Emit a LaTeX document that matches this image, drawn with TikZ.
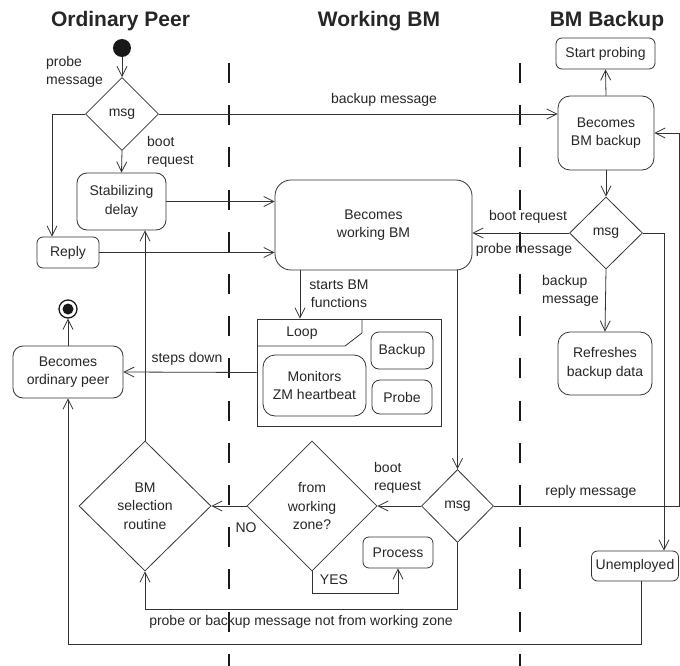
\documentclass[tikz,border=0pt]{standalone}
\usepackage{fontspec}
\setmainfont{Liberation Sans}
\usetikzlibrary{arrows.meta,shapes.geometric}

\begin{document}
\begin{tikzpicture}[x=1pt,y=-1pt,
  every node/.style={font=\fontsize{14}{18.5}\selectfont, text=black!85},
  ln/.style={draw=black!80, line width=0.8pt},
  arr/.style={ln, -{Straight Barb[length=10pt,width=10pt]}},
  act/.style={draw=black!80, line width=0.8pt, rounded corners=#1, align=center, inner sep=0pt},
  act/.default=8pt,
  dec/.style={draw=black!80, line width=0.8pt, shape=diamond, aspect=1, inner sep=0pt, align=center},
  lbl/.style={align=left, anchor=west, inner sep=0pt},
  lane/.style={line width=2pt, draw=black!90, dash pattern=on 20pt off 22.2pt},
  title/.style={font=\fontsize{21}{25}\selectfont\bfseries, text=black!85}
]
\useasboundingbox (0,0) rectangle (680,666);

% swimlane titles and separators
\node[title] at (120.5,21) {Ordinary Peer};
\node[title] at (379,21) {Working BM};
\node[title] at (607,21) {BM Backup};
\draw[lane] (229,63) -- (229,666);
\draw[lane] (520,63) -- (520,666);

% ordinary peer lane
\node[circle, fill=black!90, minimum size=18pt, inner sep=0pt] (init) at (122,48) {};
\node[dec, minimum width=73pt, minimum height=73pt] (m1) at (122,114) {msg};
\node[act=10pt, minimum width=89pt, minimum height=57pt] (stab) at (121.5,201.5) {Stabilizing\\delay};
\node[act=6pt, minimum width=62pt, minimum height=31pt] (reply) at (68,252.5) {Reply};
\node[act=10pt, minimum width=110pt, minimum height=52pt] (ordp) at (68,372) {Becomes\\ordinary peer};
\node[circle, draw=black!90, line width=1.3pt, minimum size=18pt, inner sep=0pt] (fin) at (68,309) {};
\fill[black!90] (fin.center) circle (5.5pt);
\node[dec, minimum width=132pt, minimum height=130pt] (bms) at (145,506) {BM\\selection\\routine};

% working BM lane
\node[act=16pt, minimum width=197pt, minimum height=90pt] (wbm) at (373.5,225) {Becomes\\working BM};
\node[draw=black!80, line width=0.8pt, minimum width=184pt, minimum height=107pt, inner sep=0pt] (loopf) at (349,372.5) {};
\draw[ln] (257,346) -- (345,346) -- (362,333) -- (362,319);
\node at (302,333) {Loop};
\node[act=12pt, minimum width=103pt, minimum height=61pt] (mon) at (314.5,385.5) {Monitors\\ZM heartbeat};
\node[act=8pt, minimum width=62pt, minimum height=37pt] (bkp) at (402,350.5) {Backup};
\node[act=8pt, minimum width=60pt, minimum height=34pt] (prb) at (402,397) {Probe};
\node[dec, minimum width=130pt, minimum height=130pt] (fwz) at (312,506) {from\\working\\zone?};
\node[dec, minimum width=72pt, minimum height=73pt] (m3) at (457.5,506) {msg};
\node[act=6pt, minimum width=70pt, minimum height=31pt] (proc) at (398,552.5) {Process};

% BM backup lane
\node[act=6pt, minimum width=99pt, minimum height=31pt] (startp) at (605.5,53.5) {Start probing};
\node[act=12pt, minimum width=96pt, minimum height=74pt] (bmbk) at (606,133) {Becomes\\BM backup};
\node[dec, minimum width=73pt, minimum height=72pt] (m2) at (606,233) {msg};
\node[act=12pt, minimum width=94pt, minimum height=63pt] (refr) at (605,363.5) {Refreshes\\backup data};
\node[act=6pt, minimum width=87pt, minimum height=30pt] (unemp) at (635,566) {Unemployed};

% helper columns for the routed connectors
\coordinate (cx1) at (52,0);
\coordinate (cx2) at (300,0);
\coordinate (cx3) at (664,0);
\coordinate (cx4) at (679,0);
\coordinate (cx5) at (641,0);

% connectors
\draw[arr] (init) -- (m1.north);
\draw[arr] (m1.west) -| (reply.north -| cx1);
\draw[arr] (m1.south) -- (stab.north);
\draw[arr] (m1.east) -- (m1.east -| bmbk.west);
\draw[arr] (stab.east) -- (stab.east -| wbm.west);
\draw[arr] (reply.east) -- (reply.east -| wbm.west);
\draw[arr] (bmbk.north) -- (startp.south);
\draw[arr] (bmbk.south) -- (m2.north);
\draw[arr] (m2.west) -- (m2.west -| wbm.east);
\draw[arr] (m2.south) -- (refr.north);
\draw[arr] (m2.east) -| (unemp.north -| cx3);
\draw[arr] (wbm.south -| cx2) -- (loopf.north -| cx2);
\draw[arr] (wbm.south -| m3.north) -- (m3.north);
\draw[arr] (loopf.west) -- (ordp.east);
\draw[arr] (ordp.north) -- (fin.south);
\draw[arr] (bms.north) -- (bms.north |- stab.south);
\draw[arr] (m3.west) -- (fwz.east);
\draw[arr] (fwz.west) -- (bms.east);
\draw[arr] (fwz.south) -- ++(0,22) -| (proc.south);
\draw[arr] (m3.south) -- ++(0,66) -| (bms.south);
\draw[arr] (m3.east) -- (m3.east -| cx4) -- (cx4 |- bmbk.east) -- (bmbk.east);
\draw[arr] (unemp.south -| cx5) -- ++(0,63) -| (ordp.south);

% connector labels
\node[lbl] at (46,72) {probe\\message};
\node[lbl] at (147,152) {boot\\request};
\node at (384,100) {backup message};
\node at (528,217) {boot request};
\node at (524,250) {probe message};
\node[lbl] at (542,291) {backup\\message};
\node[align=center, inner sep=0pt] at (339,294) {starts BM\\functions};
\node at (187,359) {steps down};
\node[lbl] at (374,478) {boot\\request};
\node at (246,528) {NO};
\node at (334,580) {YES};
\node at (591,492) {reply message};
\node at (301,622) {probe or backup message not from working zone};

\end{tikzpicture}
\end{document}
